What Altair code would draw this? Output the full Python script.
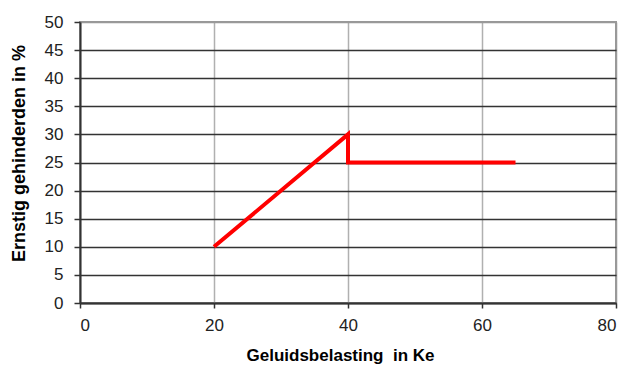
import altair as alt
import pandas as pd

x_vals = [20, 40, 40, 65]
y_vals = [10, 30, 25, 25]
order = [0, 1, 2, 3]

df = pd.DataFrame({"x": x_vals, "y": y_vals, "o": order})

font = "Liberation Sans"

chart = alt.Chart(df).mark_line(color="#ff0000", strokeWidth=4, strokeJoin="miter").encode(
    x=alt.X("x:Q", scale=alt.Scale(domain=[0, 80], nice=False),
            axis=alt.Axis(values=[0, 20, 40, 60, 80], title="Geluidsbelasting\u00a0 in Ke",
                          titleX=260, titleY=52, titleBaseline="middle",
                          gridColor={"condition": {"test": "datum.value === 80", "value": "#999999"}, "value": "#b0b0b0"},
                          gridWidth=1.5,
                          domainColor="#333333", domainWidth=2, tickColor="#333333", tickSize=5, tickWidth=1.5,
                          labelPadding=9, labelFontSize=17, labelColor="#222222", labelFont=font,
                          titleFont=font, titleFontSize=17, titleFontWeight="bold", titleColor="#000000")),
    y=alt.Y("y:Q", scale=alt.Scale(domain=[0, 50], nice=False),
            axis=alt.Axis(values=list(range(0, 55, 5)), title="Ernstig gehinderden in %",
                          titleX=-61, titleY=131, titleAngle=-90, titleBaseline="middle", titleAlign="center",
                          gridColor={"condition": {"test": "datum.value === 50", "value": "#999999"}, "value": "#333333"},
                          gridWidth=1.5,
                          domainColor="#333333", domainWidth=2, tickColor="#333333", tickSize=6, tickWidth=1.5,
                          labelPadding=11, labelFontSize=17, labelColor="#222222", labelFont=font,
                          titleFont=font, titleFontSize=18, titleFontWeight="bold", titleColor="#000000")),
    order="o:Q",
).properties(
    width=536, height=281,
    autosize=alt.AutoSizeParams(type="none"),
    padding={"left": 72, "top": 14, "right": 2, "bottom": 63},
).configure_view(stroke="#999999", strokeWidth=2)

chart.save("out.html", embed_options={"renderer": "svg", "actions": False})
